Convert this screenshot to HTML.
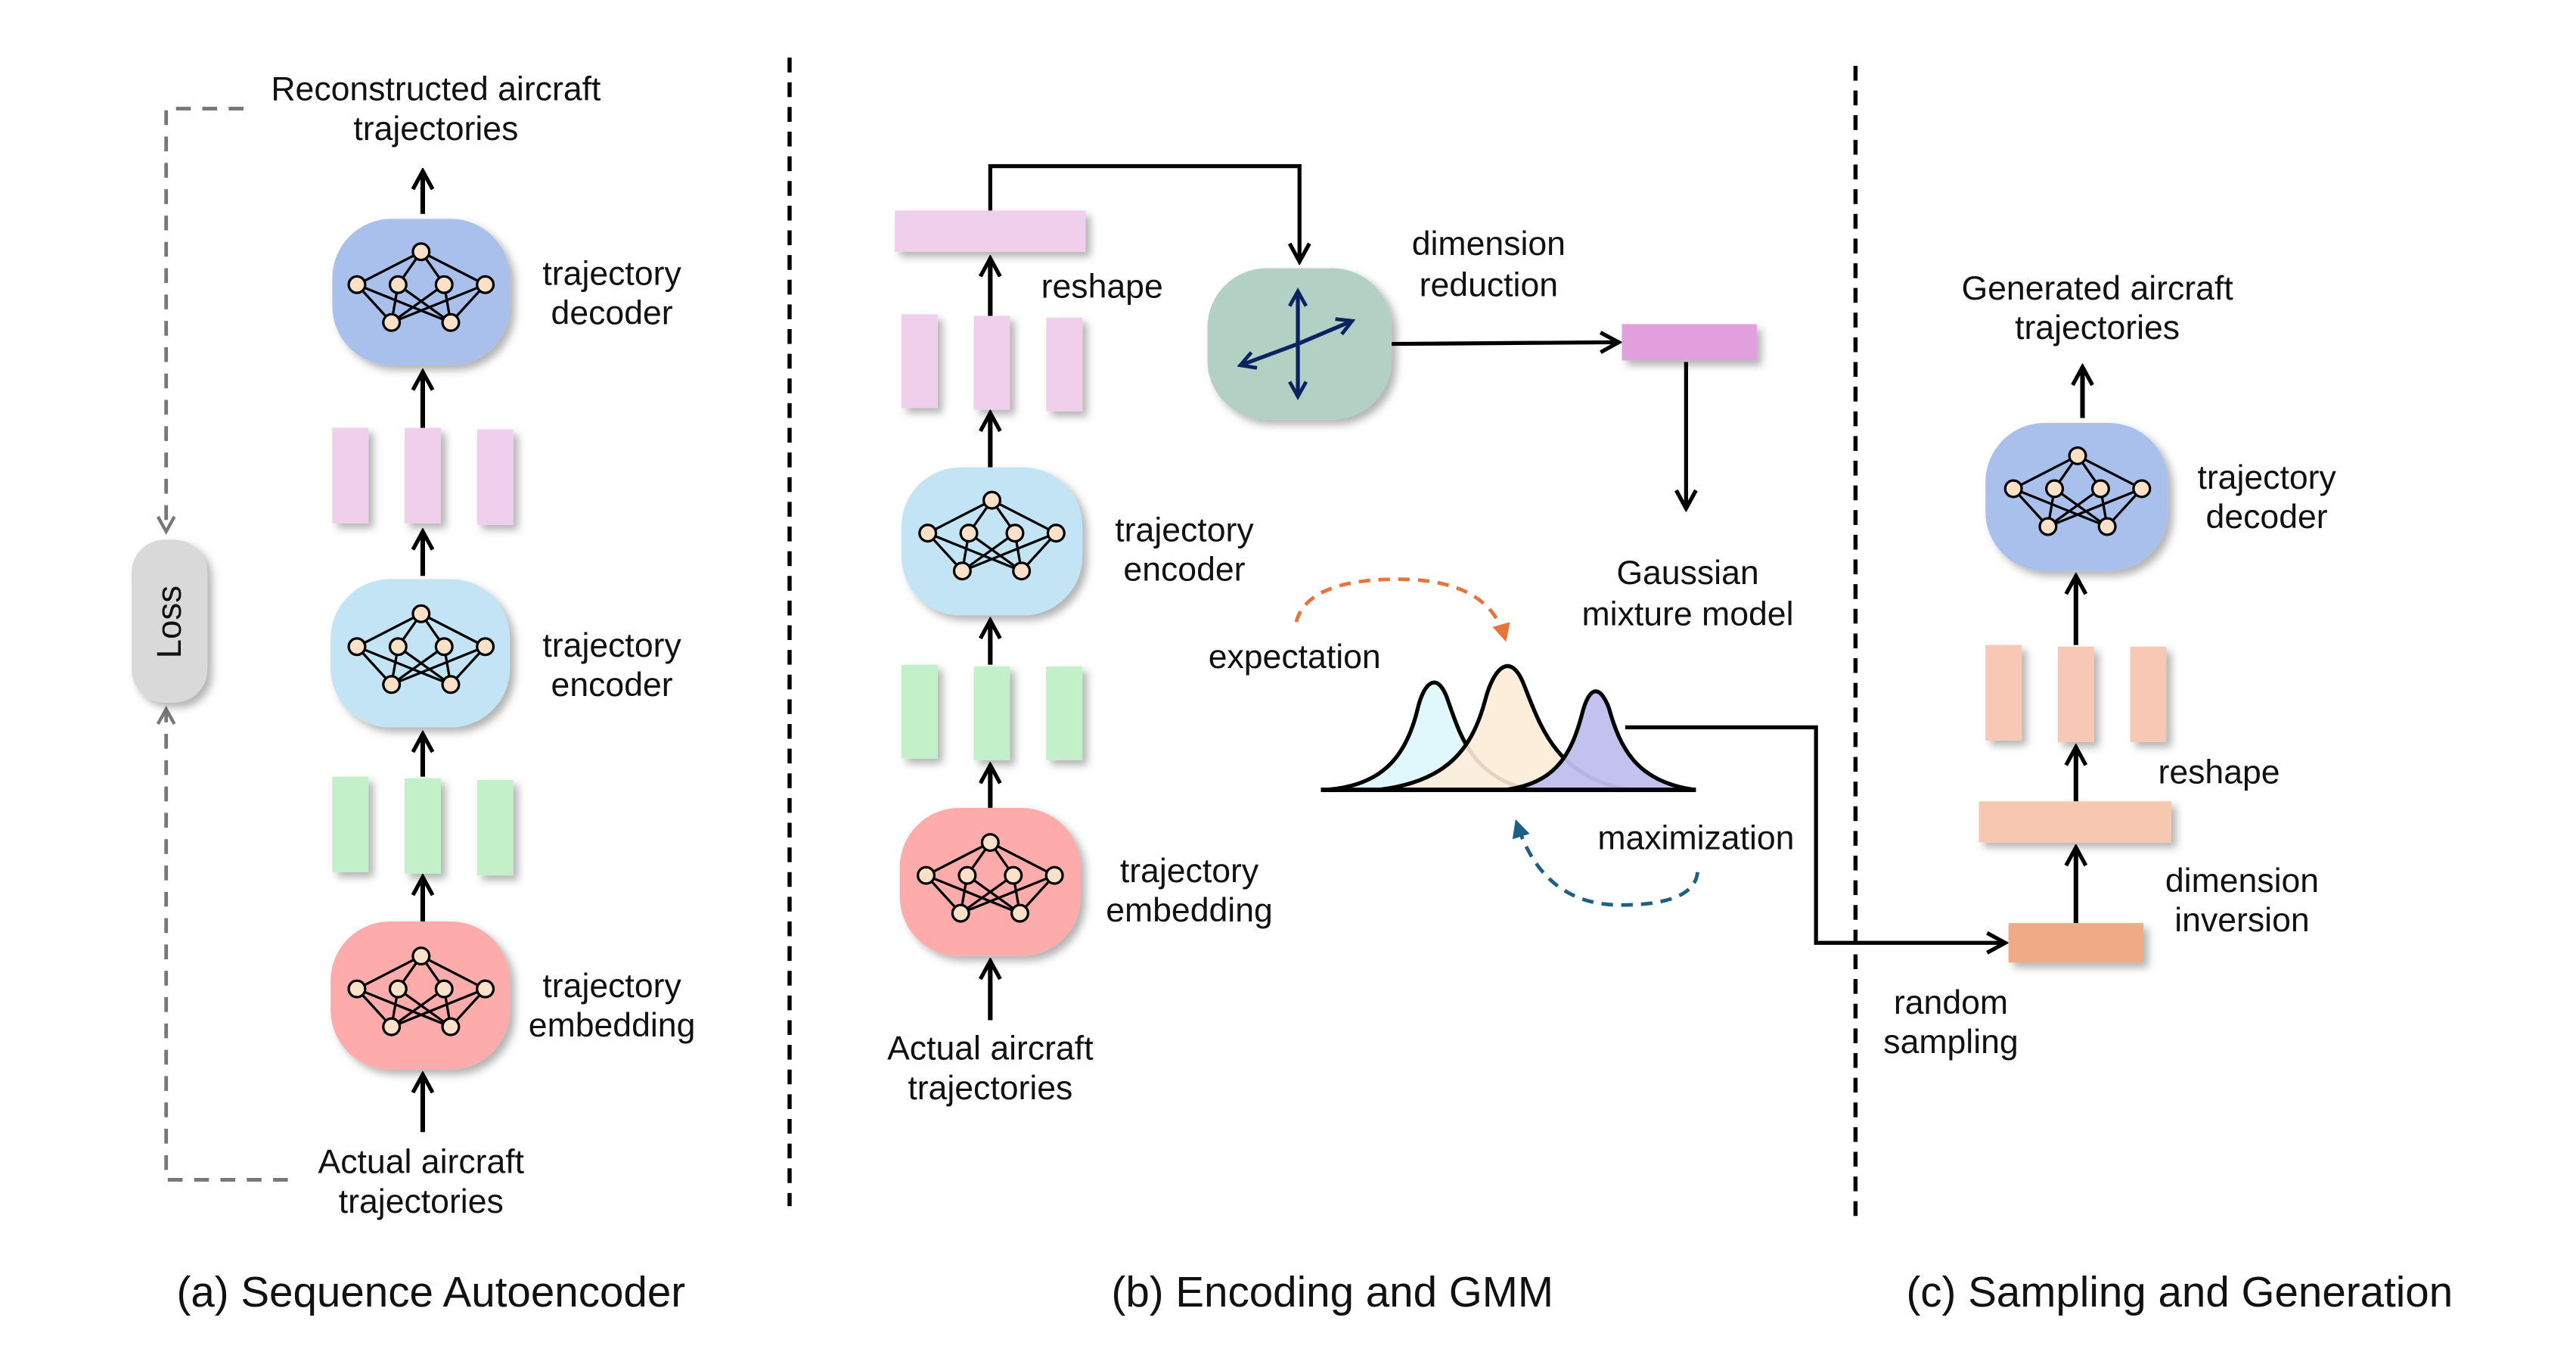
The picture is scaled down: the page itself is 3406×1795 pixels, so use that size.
<!DOCTYPE html>
<html><head><meta charset="utf-8"><style>html,body{margin:0;padding:0;background:#fff}svg{display:block}text{font-family:"Liberation Sans",Arial,sans-serif;fill:#111}</style></head><body>
<svg width="3406" height="1795" viewBox="0 0 1566 825.3" preserveAspectRatio="none" xmlns="http://www.w3.org/2000/svg">
<defs>
<filter id="sh" x="-20%" y="-20%" width="150%" height="150%"><feDropShadow dx="3" dy="3" stdDeviation="2.5" flood-color="#000" flood-opacity="0.3"/></filter>
<marker id="ar" viewBox="0 0 14 14" refX="12" refY="7" markerWidth="14" markerHeight="14" markerUnits="userSpaceOnUse" orient="auto"><path d="M1,1 L12,7 L1,13" fill="none" stroke="#000" stroke-width="2.4"/></marker>
<marker id="ag" viewBox="0 0 12 12" refX="10" refY="6" markerWidth="12" markerHeight="12" markerUnits="userSpaceOnUse" orient="auto"><path d="M1,1 L10,6 L1,11" fill="none" stroke="#777" stroke-width="2"/></marker>
<marker id="an" viewBox="0 0 12 12" refX="10" refY="6" markerWidth="12" markerHeight="12" markerUnits="userSpaceOnUse" orient="auto"><path d="M1,1 L10,6 L1,11" fill="none" stroke="#0c2260" stroke-width="2.2"/></marker>
<marker id="ao" viewBox="0 0 10 10" refX="8" refY="5" markerWidth="11" markerHeight="11" markerUnits="userSpaceOnUse" orient="auto"><path d="M0,0 L10,5 L0,10 z" fill="#e8743a"/></marker>
<marker id="ab" viewBox="0 0 10 10" refX="8" refY="5" markerWidth="11" markerHeight="11" markerUnits="userSpaceOnUse" orient="auto"><path d="M0,0 L10,5 L0,10 z" fill="#1f5f86"/></marker>
<g id="net" stroke="#000" stroke-width="1.5">
<line x1="0" y1="-24" x2="-39" y2="-4"/><line x1="0" y1="-24" x2="-14" y2="-4"/><line x1="0" y1="-24" x2="14" y2="-4"/><line x1="0" y1="-24" x2="39" y2="-4"/>
<line x1="-39" y1="-4" x2="-18" y2="19"/><line x1="-39" y1="-4" x2="18" y2="19"/><line x1="-14" y1="-4" x2="-18" y2="19"/><line x1="-14" y1="-4" x2="18" y2="19"/>
<line x1="14" y1="-4" x2="-18" y2="19"/><line x1="14" y1="-4" x2="18" y2="19"/><line x1="39" y1="-4" x2="-18" y2="19"/><line x1="39" y1="-4" x2="18" y2="19"/>
<g fill="#fde0c8"><circle cx="0" cy="-24" r="5"/><circle cx="-39" cy="-4" r="5"/><circle cx="-14" cy="-4" r="5"/><circle cx="14" cy="-4" r="5"/><circle cx="39" cy="-4" r="5"/><circle cx="-18" cy="19" r="5"/><circle cx="18" cy="19" r="5"/></g>
</g>
</defs>
<g font-size="20.5" text-anchor="middle">
<text x="265" y="61">Reconstructed aircraft</text><text x="265" y="85">trajectories</text>
<path d="M148,66 H101 V323" fill="none" stroke="#777" stroke-width="2.2" stroke-dasharray="9,7" marker-end="url(#ag)"/>
<path d="M175,717 H101 V431" fill="none" stroke="#777" stroke-width="2.2" stroke-dasharray="9,7" marker-end="url(#ag)"/>
<rect x="80" y="328" width="46" height="99" rx="20" fill="#d9d9d9" filter="url(#sh)"/>
<text transform="translate(110,378) rotate(-90)" font-size="21">Loss</text>
<line x1="257" y1="130" x2="257" y2="104" stroke="#000" stroke-width="2.8" marker-end="url(#ar)"/>
<rect x="202" y="133" width="108" height="89" rx="36" fill="#a9c0ec" filter="url(#sh)"/><use href="#net" x="256" y="177"/>
<g fill="#f0cfed" filter="url(#sh)"><rect x="202" y="260" width="22" height="58"/><rect x="246" y="260" width="22" height="58"/><rect x="290" y="261" width="22" height="58"/></g>
<line x1="257" y1="260" x2="257" y2="226" stroke="#000" stroke-width="2.8" marker-end="url(#ar)"/>
<rect x="201" y="352" width="109" height="90" rx="36" fill="#c2e4f5" filter="url(#sh)"/><use href="#net" x="256" y="397"/>
<line x1="257" y1="350" x2="257" y2="323" stroke="#000" stroke-width="2.8" marker-end="url(#ar)"/>
<g fill="#c3f0c9" filter="url(#sh)"><rect x="202" y="472" width="22" height="58"/><rect x="246" y="473" width="22" height="58"/><rect x="290" y="474" width="22" height="58"/></g>
<line x1="257" y1="472" x2="257" y2="446" stroke="#000" stroke-width="2.8" marker-end="url(#ar)"/>
<line x1="257" y1="560" x2="257" y2="533" stroke="#000" stroke-width="2.8" marker-end="url(#ar)"/>
<rect x="201" y="560" width="109" height="90" rx="36" fill="#fdabab" filter="url(#sh)"/><use href="#net" x="256" y="605"/>
<line x1="257" y1="688" x2="257" y2="653" stroke="#000" stroke-width="2.8" marker-end="url(#ar)"/>
<text x="372" y="173">trajectory</text><text x="372" y="197">decoder</text>
<text x="372" y="399">trajectory</text><text x="372" y="423">encoder</text>
<text x="372" y="606">trajectory</text><text x="372" y="630">embedding</text>
<text x="256" y="713">Actual aircraft</text><text x="256" y="737">trajectories</text>
<line x1="480" y1="35" x2="480" y2="733" stroke="#000" stroke-width="2.5" stroke-dasharray="9,6"/>
<text x="262" y="794" font-size="26">(a) Sequence Autoencoder</text>
<path d="M602,128 V101 H790 V159" fill="none" stroke="#000" stroke-width="2.4" marker-end="url(#ar)"/>
<rect x="544" y="128" width="116" height="25" fill="#f0cfed" filter="url(#sh)"/>
<line x1="602" y1="192" x2="602" y2="157" stroke="#000" stroke-width="2.8" marker-end="url(#ar)"/>
<g fill="#f0cfed" filter="url(#sh)"><rect x="548" y="191" width="22" height="57"/><rect x="592" y="192" width="22" height="57"/><rect x="636" y="193" width="22" height="57"/></g>
<text x="670" y="181">reshape</text>
<line x1="602" y1="284" x2="602" y2="251" stroke="#000" stroke-width="2.8" marker-end="url(#ar)"/>
<rect x="548" y="284" width="110" height="90" rx="36" fill="#c2e4f5" filter="url(#sh)"/><use href="#net" x="603" y="328"/>
<line x1="602" y1="404" x2="602" y2="377" stroke="#000" stroke-width="2.8" marker-end="url(#ar)"/>
<g fill="#c3f0c9" filter="url(#sh)"><rect x="548" y="404" width="22" height="57"/><rect x="592" y="405" width="22" height="57"/><rect x="636" y="405" width="22" height="57"/></g>
<line x1="602" y1="491" x2="602" y2="465" stroke="#000" stroke-width="2.8" marker-end="url(#ar)"/>
<rect x="547" y="491" width="110" height="90" rx="36" fill="#fdabab" filter="url(#sh)"/><use href="#net" x="602" y="536"/>
<line x1="602" y1="620" x2="602" y2="584" stroke="#000" stroke-width="2.8" marker-end="url(#ar)"/>
<text x="602" y="644">Actual aircraft</text><text x="602" y="668">trajectories</text>
<text x="720" y="329">trajectory</text><text x="720" y="353">encoder</text>
<text x="723" y="536">trajectory</text><text x="723" y="560">embedding</text>
<rect x="734" y="163" width="112" height="92" rx="36" fill="#b3d0c4" filter="url(#sh)"/>
<line x1="789" y1="209" x2="789" y2="177" stroke="#0c2260" stroke-width="2.4" marker-end="url(#an)"/>
<line x1="789" y1="209" x2="789" y2="241" stroke="#0c2260" stroke-width="2.4" marker-end="url(#an)"/>
<line x1="789" y1="209" x2="822" y2="195" stroke="#0c2260" stroke-width="2.4" marker-end="url(#an)"/>
<line x1="789" y1="209" x2="754" y2="222" stroke="#0c2260" stroke-width="2.4" marker-end="url(#an)"/>
<line x1="846" y1="209" x2="984" y2="208" stroke="#000" stroke-width="2.4" marker-end="url(#ar)"/>
<rect x="986" y="197" width="82" height="22" fill="#e29fdd" filter="url(#sh)"/>
<line x1="1025" y1="220" x2="1025" y2="309" stroke="#000" stroke-width="2.4" marker-end="url(#ar)"/>
<text x="905" y="155">dimension</text><text x="905" y="180">reduction</text>
<text x="1026" y="355">Gaussian</text><text x="1026" y="380">mixture model</text>
<text x="787" y="406">expectation</text>
<path d="M788,378 Q795,352 850,352 Q905,352 915,388" fill="none" stroke="#e8743a" stroke-width="2.2" stroke-dasharray="7,5" marker-end="url(#ao)"/>
<path d="M805,480 C840,478 855,460 862,430 C866,414 874,408 880,425 C888,448 895,472 930,480 Z" fill="#e0f7fb" stroke="#000" stroke-width="2.4"/>
<path d="M838,480 C880,475 895,455 903,425 C908,406 918,396 926,415 C936,440 945,472 990,480 Z" fill="#fdecd8" stroke="#000" stroke-width="2.4" fill-opacity="0.9"/>
<path d="M915,480 C945,476 955,460 962,433 C966,418 972,415 978,430 C985,455 995,475 1030,480 Z" fill="#c0bfee" stroke="#000" stroke-width="2.4" fill-opacity="0.95"/>
<line x1="803" y1="480" x2="1031" y2="480" stroke="#000" stroke-width="2.8"/>
<text x="1031" y="516">maximization</text>
<path d="M1032,530 Q1030,550 985,550 Q938,550 922,500" fill="none" stroke="#1f5f86" stroke-width="2.2" stroke-dasharray="7,5" marker-end="url(#ab)"/>
<path d="M988,442 H1104 V573 H1219" fill="none" stroke="#000" stroke-width="2.4" marker-end="url(#ar)"/>
<line x1="1128" y1="40" x2="1128" y2="740" stroke="#000" stroke-width="2.5" stroke-dasharray="9,6"/>
<text x="810" y="794" font-size="26">(b) Encoding and GMM</text>
<text x="1275" y="182">Generated aircraft</text><text x="1275" y="206">trajectories</text>
<line x1="1266" y1="254" x2="1266" y2="223" stroke="#000" stroke-width="2.8" marker-end="url(#ar)"/>
<rect x="1207" y="257" width="111" height="90" rx="36" fill="#a9c0ec" filter="url(#sh)"/><use href="#net" x="1263" y="301"/>
<text x="1378" y="297">trajectory</text><text x="1378" y="321">decoder</text>
<line x1="1262" y1="392" x2="1262" y2="350" stroke="#000" stroke-width="2.8" marker-end="url(#ar)"/>
<g fill="#f7c9b4" filter="url(#sh)"><rect x="1207" y="392" width="22" height="58"/><rect x="1251" y="393" width="22" height="58"/><rect x="1295" y="393" width="22" height="58"/></g>
<line x1="1262" y1="487" x2="1262" y2="454" stroke="#000" stroke-width="2.8" marker-end="url(#ar)"/>
<text x="1349" y="476">reshape</text>
<rect x="1203" y="487" width="117" height="25" fill="#f6c8b0" filter="url(#sh)"/>
<line x1="1262" y1="561" x2="1262" y2="515" stroke="#000" stroke-width="2.8" marker-end="url(#ar)"/>
<rect x="1221" y="561" width="82" height="24" fill="#f0aa85" filter="url(#sh)"/>
<text x="1363" y="542">dimension</text><text x="1363" y="566">inversion</text>
<text x="1186" y="616">random</text><text x="1186" y="640">sampling</text>
<text x="1325" y="794" font-size="26">(c) Sampling and Generation</text>
</g>
</svg>
</body></html>
